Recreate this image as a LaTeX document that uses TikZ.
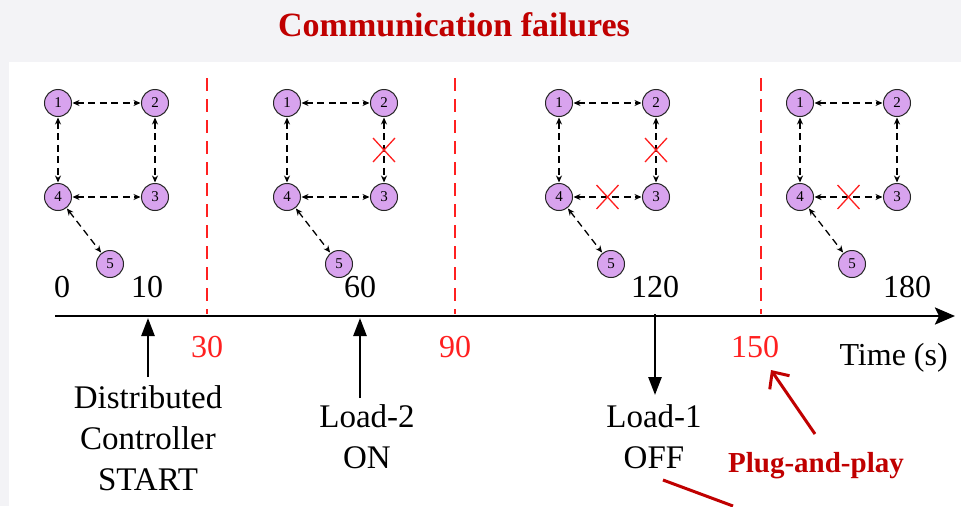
\documentclass[tikz,border=0pt]{standalone}
\usepackage{fontspec}
\setmainfont{Liberation Serif}
\usetikzlibrary{arrows.meta,calc}
\definecolor{bgband}{RGB}{243,243,246}
\definecolor{agentfill}{RGB}{216,163,238}
\definecolor{titlered}{RGB}{192,0,0}
\definecolor{markred}{RGB}{255,32,32}
\begin{document}
\begin{tikzpicture}[x=1pt,y=-1pt,
  agent/.style={circle,draw=black!85,fill=agentfill,line width=1pt,minimum size=27pt,inner sep=0pt,
    font=\fontsize{15}{15}\selectfont},
  link/.style={dash pattern=on 7pt off 4.5pt,line width=1.3pt,
    {Stealth[length=7pt,width=6pt]}-{Stealth[length=7pt,width=6pt]},shorten <=0.5pt,shorten >=0.5pt},
  cut/.style={markred,line width=1.3pt},
  phase/.style={markred,line width=1.4pt,dash pattern=on 13pt off 8pt},
  timeaxis/.style={line width=2.6pt,-{Stealth[length=20pt,width=17pt,inset=4pt]}},
  event/.style={line width=2.6pt,-{Triangle[length=18pt,width=13pt]}},
  hint/.style={titlered,line width=3pt},
  ticklbl/.style={anchor=base,font=\fontsize{32}{32}\selectfont},
  phaselbl/.style={anchor=base,text=markred,font=\fontsize{32}{32}\selectfont},
  eventlbl/.style={anchor=north,align=center,inner sep=0pt,font=\fontsize{33}{41}\selectfont},
]
% page background and white panel
\useasboundingbox (0,0) rectangle (961,506);
\fill[bgband] (0,0) rectangle (961,506);
\fill[white] (9,62) rectangle (961,506);

% title
\node[anchor=base,text=titlered,font=\fontsize{34}{34}\selectfont\bfseries] (title) at (454,36) {Communication failures};

% four snapshots of the communication graph
\foreach \p/\x in {1/58,2/287,3/559,4/800}{
  \node[agent] (p\p n1) at (\x,103) {1};
  \node[agent] (p\p n2) at (\x+97,103) {2};
  \node[agent] (p\p n4) at (\x,197) {4};
  \node[agent] (p\p n3) at (\x+97,197) {3};
  \node[agent] (p\p n5) at (\x+52,264) {5};
  \draw[link] (p\p n1) -- (p\p n2);
  \draw[link] (p\p n1) -- (p\p n4);
  \draw[link] (p\p n2) -- (p\p n3);
  \draw[link] (p\p n4) -- (p\p n3);
  \draw[link] (p\p n4) -- (p\p n5);
}

% failed links
\coordinate (f2a) at ($(p2n2)!0.5!(p2n3)$);
\coordinate (f3a) at ($(p3n2)!0.5!(p3n3)$);
\coordinate (f3b) at ($(p3n4)!0.5!(p3n3)$);
\coordinate (f4b) at ($(p4n4)!0.5!(p4n3)$);
\foreach \c in {f2a,f3a,f3b,f4b}{
  \draw[cut] (\c) ++(-11,-12) -- ++(22,24) (\c) ++(11,-12) -- ++(-22,24);
}

% time axis
\coordinate (axL) at (55,316);
\coordinate (axR) at (955,316);
\draw[timeaxis] (axL) -- (axR);

% phase boundaries
\foreach \n/\x in {30/207,90/455,150/761}{
  \coordinate (top\n) at (\x,78);
  \coordinate (bot\n) at (\x,314);
  \draw[phase] (top\n) -- (bot\n);
}
\node[phaselbl] (l30) at (207,357) {30};
\node[phaselbl] (l90) at (455,357) {90};
\node[phaselbl] (l150) at (755,357) {150};

% times above the axis
\node[ticklbl] (t0) at (62,297) {0};
\node[ticklbl] (t10) at (147,297) {10};
\node[ticklbl] (t60) at (360,297) {60};
\node[ticklbl] (t120) at (655,297) {120};
\node[ticklbl] (t180) at (907,297) {180};
\node[ticklbl,anchor=base west] (tunit) at (836,365) {Time (s)};

% events
\coordinate (e10) at (148,318);
\coordinate (e60) at (360,318);
\coordinate (e120) at (655,314);
\node[eventlbl] (start) at (148,385) {Distributed\\Controller\\START};
\node[eventlbl] (load2) at (367,404) {Load-2\\ON};
\node[eventlbl] (load1) at (654,404) {Load-1\\OFF};
\draw[event] ([yshift=8pt]start.north -| e10) -- (e10);
\draw[event] ([yshift=6pt]load2.north -| e60) -- (e60);
\draw[event] (e120) -- ([yshift=9pt]load1.north -| e120);

% plug-and-play note
\node[anchor=base,text=titlered,font=\fontsize{29}{29}\selectfont\bfseries] (pnp) at (816,472) {Plug-and-play};
\coordinate (pnpfrom) at (815,434);
\coordinate (pnpto) at (771,370);
\draw[hint,-{Straight Barb[length=13pt,width=24pt]}] (pnpfrom) -- (pnpto);
\coordinate (lnA) at (663,480);
\coordinate (lnB) at (733,506);
\draw[hint] (lnA) -- (lnB);
\end{tikzpicture}
\end{document}
